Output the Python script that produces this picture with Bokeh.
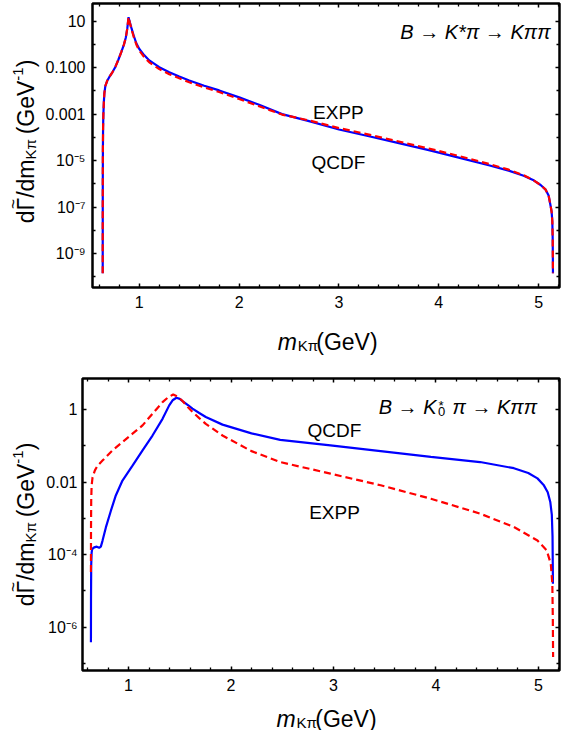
import json
import math
from bokeh.plotting import figure
from bokeh.layouts import column, row
from bokeh.models import (Range1d, FixedTicker, CustomJSTickFormatter, LinearAxis,
                          LogAxis, Label)
from bokeh.embed import file_html
from bokeh.resources import INLINE

# ---------------- data (m_Kpi in GeV, values given as log10 of dGamma/dm) ----------------
# Top panel: B -> K* pi -> K pi pi
top_m = [0.6333, 0.6336, 0.634, 0.635, 0.637, 0.640, 0.645, 0.650, 0.660, 0.680,
         0.700, 0.730, 0.760, 0.790, 0.820, 0.845, 0.865, 0.880, 0.892, 0.905,
         0.920, 0.947, 0.970, 1.000, 1.050, 1.100, 1.200, 1.300, 1.400, 1.500,
         1.650, 1.800, 2.000, 2.200, 2.430, 2.700, 3.000, 3.300, 3.600, 3.900,
         4.200, 4.500, 4.700, 4.850, 4.950, 5.020, 5.070, 5.100, 5.120, 5.130,
         5.137, 5.141, 5.1435]
top_qcdf_log = [-9.85, -7.5, -6.0, -4.6, -3.6, -3.0, -2.45, -2.1, -1.78, -1.55,
                -1.4, -1.2, -0.97, -0.66, -0.32, -0.02, 0.3, 0.7, 1.17, 0.95,
                0.72, 0.33, 0.05, -0.2, -0.47, -0.69, -0.98, -1.2, -1.38, -1.55,
                -1.78, -1.98, -2.28, -2.6, -3.0, -3.3, -3.66, -3.95, -4.25, -4.55,
                -4.87, -5.2, -5.43, -5.65, -5.85, -6.05, -6.25, -6.5, -6.95, -7.2,
                -7.6, -8.4, -9.85]
top_expp_log = [-9.85, -7.5, -6.0, -4.6, -3.6, -3.0, -2.45, -2.1, -1.78, -1.55,
                -1.4, -1.2, -0.97, -0.66, -0.32, -0.02, 0.3, 0.7, 1.17, 0.93,
                0.68, 0.28, 0.0, -0.27, -0.55, -0.77, -1.06, -1.28, -1.46, -1.63,
                -1.85, -2.05, -2.35, -2.66, -3.02, -3.27, -3.6, -3.88, -4.18, -4.48,
                -4.8, -5.14, -5.39, -5.63, -5.85, -6.05, -6.25, -6.5, -6.95, -7.2,
                -7.6, -8.4, -9.85]

# Bottom panel: B -> K0* pi -> K pi pi
bot_qcdf_m = [0.6333, 0.634, 0.636, 0.64, 0.645, 0.665, 0.69, 0.714, 0.73, 0.746,
              0.779, 0.828, 0.876, 0.941, 1.039, 1.137, 1.234, 1.332, 1.397, 1.43,
              1.468, 1.50, 1.527, 1.58, 1.624, 1.69, 1.754, 1.917, 2.2, 2.48,
              2.97, 3.46, 3.95, 4.43, 4.76, 4.90, 4.99, 5.05, 5.09, 5.115,
              5.13, 5.137, 5.141]
bot_qcdf_log = [-6.41, -5.2, -4.3, -3.95, -3.85, -3.8, -3.78, -3.81, -3.78, -3.62,
                -3.25, -2.79, -2.37, -1.96, -1.55, -1.13, -0.72, -0.26, 0.11, 0.25,
                0.32, 0.29, 0.23, 0.12, 0.02, -0.1, -0.21, -0.42, -0.66, -0.84,
                -0.99, -1.15, -1.31, -1.45, -1.62, -1.75, -1.9, -2.08, -2.28, -2.55,
                -2.9, -3.5, -4.8]
bot_expp_m = [0.6333, 0.634, 0.636, 0.640, 0.649, 0.672, 0.698, 0.746, 0.844, 0.941,
              1.039, 1.137, 1.234, 1.332, 1.39, 1.436, 1.48, 1.527, 1.58, 1.624,
              1.69, 1.754, 1.917, 2.2, 2.48, 2.97, 3.46, 3.95, 4.43, 4.76,
              4.99, 5.08, 5.12, 5.135, 5.14, 5.1425]
bot_expp_log = [-4.48, -3.3, -2.5, -2.1, -1.87, -1.68, -1.55, -1.41, -1.13, -0.90,
                -0.67, -0.44, -0.12, 0.20, 0.34, 0.41, 0.35, 0.23, 0.06, -0.07,
                -0.24, -0.40, -0.72, -1.15, -1.45, -1.77, -2.09, -2.46, -2.87, -3.24,
                -3.61, -3.88, -4.25, -4.8, -5.8, -6.82]

# ticks
x_major = [1, 2, 3, 4, 5]
x_minor = [0.6, 0.8, 1.2, 1.4, 1.6, 1.8, 2.2, 2.4, 2.6, 2.8, 3.2, 3.4, 3.6, 3.8,
           4.2, 4.4, 4.6, 4.8, 5.2]
top_y_major_exp = [1, -1, -3, -5, -7, -9]
top_y_labels = ["10", "0.100", "0.001", "10\u207b\u2075", "10\u207b\u2077", "10\u207b\u2079"]
top_y_minor_exp = [0, -2, -4, -6, -8, -10]
bot_y_major_exp = [0, -2, -4, -6]
bot_y_labels = ["1", "0.01", "10\u207b\u2074", "10\u207b\u2076"]
bot_y_minor_exp = [-1, -3, -5, -7]

BLUE = "#0000ff"
RED = "#ff0000"
FONT = "Liberation Sans"
TOTAL_W = 561
BORDER_R = 2
BORDER_B = 30


def fmt(exps, labels):
    m = {str(e): l for e, l in zip(exps, labels)}
    return CustomJSTickFormatter(code="const m = %s; const k = Math.round(Math.log10(tick));"
                                      " const s = String(k); return (s in m) ? m[s] : '';" % json.dumps(m))


def style_axis(ax, fs="16px", standoff=6):
    ax.axis_line_color = None
    ax.major_tick_in = 4
    ax.major_tick_out = 0
    ax.minor_tick_in = 3
    ax.minor_tick_out = 0
    ax.major_tick_line_color = "black"
    ax.minor_tick_line_color = "black"
    ax.major_tick_line_width = 1.5
    ax.minor_tick_line_width = 1.3
    ax.major_label_text_font = FONT
    ax.major_label_text_font_size = fs
    ax.major_label_text_color = "black"
    ax.major_label_standoff = standoff


def make_panel(width, height, border_left, border_top, xr, ylog, y_major_exp, y_labels,
               y_minor_exp, ystand):
    p = figure(width=width, height=height, output_backend="svg", toolbar_location=None,
               x_range=Range1d(*xr), y_range=Range1d(10 ** ylog[0], 10 ** ylog[1]),
               y_axis_type="log", min_border_left=border_left, min_border_right=BORDER_R,
               min_border_top=border_top, min_border_bottom=BORDER_B)
    p.grid.visible = False
    p.outline_line_color = "black"
    p.outline_line_width = 2.5
    p.background_fill_color = "white"
    p.border_fill_color = "white"
    xt = FixedTicker(ticks=x_major, minor_ticks=x_minor)
    yt = FixedTicker(ticks=[10.0 ** e for e in y_major_exp],
                     minor_ticks=[10.0 ** e for e in y_minor_exp])
    p.xaxis.ticker = xt
    p.yaxis.ticker = yt
    p.yaxis.formatter = fmt(y_major_exp, y_labels)
    style_axis(p.xaxis[0], standoff=8)
    style_axis(p.yaxis[0], standoff=ystand)
    blank = CustomJSTickFormatter(code="return '';")
    ax_top = LinearAxis(ticker=xt, formatter=blank)
    ay_right = LogAxis(ticker=yt, formatter=blank)
    for a in (ax_top, ay_right):
        style_axis(a, fs="0px", standoff=0)
    p.add_layout(ax_top, "above")
    p.add_layout(ay_right, "right")
    return p


def blank_fig(width, height, xr, yr, y_log=False, bl=0, br=0, bt=0, bb=0):
    f = figure(width=width, height=height, output_backend="svg", toolbar_location=None,
               x_range=Range1d(*xr), y_range=Range1d(*yr),
               y_axis_type="log" if y_log else "linear",
               x_axis_location=None, y_axis_location=None,
               min_border_left=bl, min_border_right=br, min_border_top=bt, min_border_bottom=bb)
    f.grid.visible = False
    f.outline_line_color = None
    f.background_fill_color = "white"
    f.border_fill_color = "white"
    return f


def mapper(L, T, W, H, xr, ylog):
    def X(px):
        return xr[0] + (px - L) / W * (xr[1] - xr[0])

    def Y(py):
        return 10 ** (ylog[1] - (py - T) / H * (ylog[1] - ylog[0]))
    return X, Y


def lab(p, x, y, text, size, align="left", style="normal", angle=0.0):
    p.add_layout(Label(x=x, y=y, text=text, text_font=FONT, text_font_size="%.1fpx" % size,
                       text_font_style=style, text_align=align, text_baseline="alphabetic",
                       text_color="black", angle=angle))


FS, FSUB = 23.0, 15.0
YBASE = 25.5


def y_title(f, Y, ycenter):
    # rotated y label drawn in a strip figure (x in page px)
    pieces = [("d\u0393/dm", FS, 0.0, 2.779), ("K\u03c0", FSUB, 4.0, 1.242),
              ("(GeV", FS, 0.0, 2.334), ("-1", FSUB, -8.5, 0.889), (")", FS, 0.0, 0.333)]
    gap = 0.278 * FS
    total = sum(s * w for _, s, _, w in pieces) + gap
    py = ycenter + total / 2
    start = py
    for i, (t, s, sh, w) in enumerate(pieces):
        lab(f, YBASE + sh, Y(py), t, s, angle=math.pi / 2)
        py -= s * w
        if i == 1:
            py -= gap
    # tilde over the Gamma
    gamma_mid = start - (0.556 + 0.278) * FS
    f.add_layout(Label(x=YBASE - 12.5, y=Y(gamma_mid), text="~", text_font=FONT,
                       text_font_size="17px", text_align="center", text_baseline="alphabetic",
                       text_color="black", angle=math.pi / 2))


def x_title(f, X, xcenter, ybase_local):
    pieces = [("m", FS, 0.0, 0.833, "italic"), ("K\u03c0", FSUB, 3.5, 1.242, "normal"),
              ("(GeV)", FS, 0.0, 2.667, "normal")]
    total = sum(s * w for _, s, _, w, _ in pieces) + 1.0
    px = xcenter - total / 2
    for t, s, sh, w, st in pieces:
        lab(f, X(px), ybase_local + sh, t, s, style=st)
        px += s * w + (1.0 if st == "italic" else 0.0)


# ---------------- top panel (frame: x 90..559, y 3..287) ----------------
top_xr = (0.531, 5.209)
top_ylog = (-10.46, 1.76)
ly1_w = 42
b1 = 90 - ly1_w
p1_w = TOTAL_W - ly1_w
p1_h = 3 + 284 + BORDER_B
lx1_h = 360 - p1_h
p1 = make_panel(p1_w, p1_h, b1, 3, top_xr, top_ylog, top_y_major_exp, top_y_labels,
                top_y_minor_exp, 7)
p1.line(top_m, [10 ** v for v in top_qcdf_log], line_color=BLUE, line_width=2.2)
p1.line(top_m, [10 ** v for v in top_expp_log], line_color=RED, line_width=2.2,
        line_dash="7 4")
L1 = ly1_w + b1
W1 = TOTAL_W - BORDER_R - L1
X1, Y1 = mapper(L1, 3, W1, 284, top_xr, top_ylog)

lab(p1, X1(550), Y1(31.7), "B \u2192 K*\u03c0 \u2192 K\u03c0\u03c0", 20, align="right", style="italic")
lab(p1, X1(337), Y1(111.7), "EXPP", 19, align="center")
lab(p1, X1(337), Y1(161.5), "QCDF", 19, align="center")

ly1 = blank_fig(ly1_w, p1_h, (0, ly1_w), (10 ** top_ylog[0], 10 ** top_ylog[1]), y_log=True,
                bt=3, bb=BORDER_B)
y_title(ly1, Y1, 141.0)
lx1 = blank_fig(p1_w, lx1_h, top_xr, (lx1_h, 0), bl=b1, br=BORDER_R)
x_title(lx1, X1, 326.0, 341 - p1_h)

# ---------------- bottom panel (frame: x 82..559, y 378..670) ----------------
bot_xr = (0.551, 5.205)
bot_ylog = (-7.19, 0.85)
ly2_w = 40
b2 = 82 - ly2_w
p2_w = TOTAL_W - ly2_w
p2_h = 18 + 292 + BORDER_B
lx2_h = 730 - 360 - p2_h
p2 = make_panel(p2_w, p2_h, b2, 18, bot_xr, bot_ylog, bot_y_major_exp, bot_y_labels,
                bot_y_minor_exp, 5)
p2.line(bot_qcdf_m, [10 ** v for v in bot_qcdf_log], line_color=BLUE, line_width=2.2)
p2.line(bot_expp_m, [10 ** v for v in bot_expp_log], line_color=RED, line_width=2.2,
        line_dash="7 4")
L2 = ly2_w + b2
W2 = TOTAL_W - BORDER_R - L2
X2, Y2 = mapper(L2, 378, W2, 292, bot_xr, bot_ylog)

# B -> K0* pi -> K pi pi  (composed: stacked * and 0 after K)
lab(p2, X2(436), Y2(406.7), "B \u2192 K", 20, align="right", style="italic")
lab(p2, X2(437.5), Y2(404.5), "*", 13, style="italic")
lab(p2, X2(437.5), Y2(411.0), "0", 13)
lab(p2, X2(452), Y2(406.7), "\u03c0 \u2192 K\u03c0\u03c0", 20, style="italic")
lab(p2, X2(334), Y2(429.5), "QCDF", 19, align="center")
lab(p2, X2(334), Y2(511.7), "EXPP", 19, align="center")

ly2 = blank_fig(ly2_w, p2_h, (0, ly2_w), (10 ** bot_ylog[0], 10 ** bot_ylog[1]), y_log=True,
                bt=18, bb=BORDER_B)
y_title(ly2, Y2, 524.0)
lx2 = blank_fig(p2_w, lx2_h, bot_xr, (lx2_h, 0), bl=b2, br=BORDER_R)
x_title(lx2, X2, 326.0, 718 - (360 + p2_h))

layout = column(row(ly1, column(p1, lx1)), row(ly2, column(p2, lx2)))
open("out.html", "w").write(file_html(layout, INLINE))
